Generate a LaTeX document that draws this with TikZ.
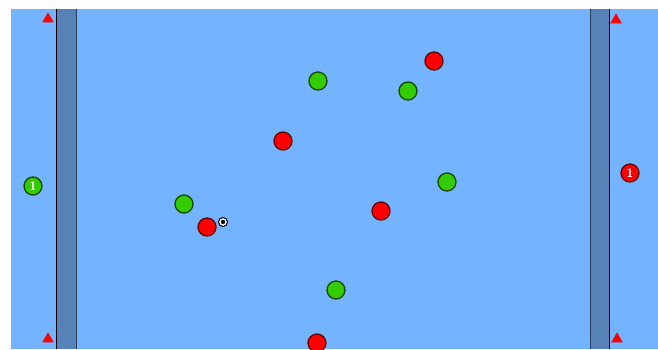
\documentclass[tikz,border=0pt]{standalone}
\usepackage{tikz}
\usetikzlibrary{shapes.geometric}
\definecolor{pitchblue}{RGB}{116,179,255}
\definecolor{wallblue}{RGB}{86,130,184}
\definecolor{walledge}{RGB}{40,60,90}
\definecolor{playgreen}{RGB}{51,204,0}
\definecolor{greenedge}{RGB}{20,70,0}
\definecolor{playred}{RGB}{255,0,0}
\definecolor{rededge}{RGB}{100,0,0}

\begin{document}
\begin{tikzpicture}[x=1pt, y=-1pt,
    gplayer/.style={circle, draw=greenedge, line width=1.3pt, fill=playgreen,
        minimum size=18pt, inner sep=0pt},
    rplayer/.style={circle, draw=rededge, line width=1.3pt, fill=playred,
        minimum size=18pt, inner sep=0pt},
    keeper/.style={font=\sffamily\bfseries\large, text=white},
    marker/.style={isosceles triangle, shape border rotate=90, fill=red,
        isosceles triangle apex angle=60, minimum size=10pt, inner sep=0pt},
    ball/.style={circle, draw=black, line width=1pt, fill=white,
        minimum size=9pt, inner sep=0pt}
]
    \useasboundingbox (0,0) rectangle (658,349);
    % pitch and side walls
    \fill[pitchblue] (11,9) rectangle (658,349);
    \fill[wallblue] (56,9) rectangle (77,349);
    \fill[wallblue] (590,9) rectangle (610,349);
    \draw[black, line width=1pt] (56.5,9) -- (56.5,349);
    \draw[walledge, line width=1pt] (76.5,9) -- (76.5,349);
    \draw[walledge, line width=1pt] (590.5,9) -- (590.5,349);
    \draw[black, line width=1pt] (609.5,9) -- (609.5,349);

    % corner markers
    \node[marker] (m1) at (48,19) {};
    \node[marker] (m2) at (48,339) {};
    \node[marker] (m3) at (616,20) {};
    \node[marker] (m4) at (617,339) {};

    % keepers
    \node[gplayer, keeper] (gk) at (33,186) {1};
    \node[rplayer, keeper] (rk) at (630,173) {1};

    % green team
    \node[gplayer] (g1) at (318,81) {};
    \node[gplayer] (g2) at (408,91) {};
    \node[gplayer] (g3) at (447,182) {};
    \node[gplayer] (g4) at (184,204) {};
    \node[gplayer] (g5) at (336,290) {};

    % red team
    \node[rplayer] (r1) at (434,61) {};
    \node[rplayer] (r2) at (283,141) {};
    \node[rplayer] (r3) at (381,211) {};
    \node[rplayer] (r4) at (207,227) {};
    \node[rplayer] (r5) at (317,343) {};

    % ball
    \node[ball] (b) at (223,222) {};
    \fill[black] (b.center) circle (2.2pt);
\end{tikzpicture}
\end{document}
